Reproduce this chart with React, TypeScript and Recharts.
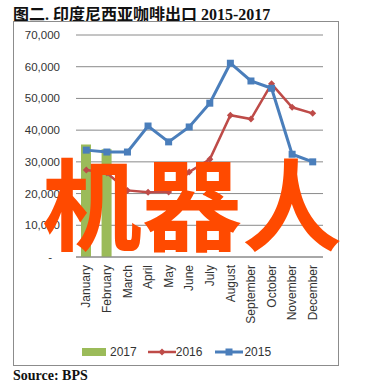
import { ComposedChart, Bar, Line, XAxis, YAxis, CartesianGrid, Legend } from 'recharts'

const months = [
  'January', 'February', 'March', 'April', 'May', 'June',
  'July', 'August', 'September', 'October', 'November', 'December',
]
const exports2017 = [35500, 34000, null, null, null, null, null, null, null, null, null, null]
const exports2016 = [27400, 26500, 21000, 20400, 20500, 26800, 30800, 44700, 43500, 54600, 47200, 45300]
const exports2015 = [33700, 33100, 33100, 41300, 36300, 41000, 48500, 61100, 55500, 53200, 32400, 30000]
const yTicks = [0, 10000, 20000, 30000, 40000, 50000, 60000, 70000]

const GREEN = '#9BBB59'
const RED = '#BE4B48'
const BLUE = '#4A7EBB'
const GRID = '#8a8a8a'
const SANS = '"Liberation Sans", Arial, sans-serif'

const chartData = months.map((m, i) => ({
  month: m,
  y2017: exports2017[i],
  y2016: exports2016[i],
  y2015: exports2015[i],
}))

function YTick({ x, y, payload }: any) {
  const v = payload.value as number
  const label = v === 0 ? '-' : v.toLocaleString('en-US')
  return (
    <text x={v === 0 ? x - 8 : x} y={y} dy="0.35em" textAnchor="end" fontSize={11.5} fill="#333" fontFamily={SANS}>
      {label}
    </text>
  )
}

function XTick({ x, y, payload }: any) {
  return (
    <text
      x={x}
      y={y}
      dy="0.35em"
      textAnchor="end"
      fontSize={12}
      fill="#333"
      fontFamily={SANS}
      transform={`rotate(-90, ${x}, ${y})`}
    >
      {payload.value}
    </text>
  )
}

function SquareDot({ cx, cy, index }: any) {
  if (cx == null || cy == null) return <g key={`s-${index}`} />
  return <rect key={`s-${index}`} x={cx - 3.5} y={cy - 3.5} width={7} height={7} fill={BLUE} />
}

function DiamondDot({ cx, cy, index }: any) {
  if (cx == null || cy == null) return <g key={`d-${index}`} />
  return (
    <polygon
      key={`d-${index}`}
      points={`${cx},${cy - 3.5} ${cx + 3.5},${cy} ${cx},${cy + 3.5} ${cx - 3.5},${cy}`}
      fill={RED}
    />
  )
}

function LegendContent() {
  const item = { display: 'flex', alignItems: 'center' } as const
  return (
    <div style={{ height: 30, paddingTop: 4, boxSizing: 'border-box', paddingLeft: 68, display: 'flex', fontFamily: SANS, fontSize: 12, color: '#333' }}>
      <div style={item}>
        <svg width={24} height={14}><rect x={0} y={3} width={24} height={8} fill={GREEN} /></svg>
        <span style={{ marginLeft: 4 }}>2017</span>
      </div>
      <div style={{ ...item, marginLeft: 11 }}>
        <svg width={28} height={14}>
          <line x1={0} y1={7} x2={28} y2={7} stroke={RED} strokeWidth={2.5} />
          <polygon points="14,3.5 17.5,7 14,10.5 10.5,7" fill={RED} />
        </svg>
        <span>2016</span>
      </div>
      <div style={{ ...item, marginLeft: 13 }}>
        <svg width={28} height={14}>
          <line x1={0} y1={7} x2={28} y2={7} stroke={BLUE} strokeWidth={3} />
          <rect x={10.5} y={3.5} width={7} height={7} fill={BLUE} />
        </svg>
        <span style={{ marginLeft: 1 }}>2015</span>
      </div>
    </div>
  )
}

export default function App() {
  return (
    <div style={{ position: 'absolute', left: 0, top: 0, width: 389, height: 388, background: '#fff' }}>
      <div
        style={{
          position: 'absolute', left: 13, top: 1, fontSize: 16, fontWeight: 700, color: '#111',
          fontFamily: '"Liberation Serif", "Noto Sans CJK SC", serif', whiteSpace: 'nowrap',
        }}
      >
        图二. 印度尼西亚咖啡出口 2015-2017
      </div>
      <div
        style={{
          position: 'absolute', left: 13, top: 21, width: 326, height: 345,
          border: '1px solid #8c8c8c', boxSizing: 'border-box',
        }}
      >
        <ComposedChart
          width={324}
          height={343}
          data={chartData}
          margin={{ top: 13, right: 15, left: 0, bottom: 0 }}
        >
          <CartesianGrid vertical={false} stroke={GRID} />
          <XAxis
            dataKey="month"
            interval={0}
            height={78}
            tickLine={false}
            tickSize={0}
            tickMargin={8}
            stroke={GRID}
            tick={<XTick />}
          />
          <YAxis
            width={62}
            domain={[0, 70000]}
            ticks={yTicks}
            axisLine={false}
            tickLine={false}
            tickSize={0}
            tickMargin={16}
            tick={<YTick />}
          />
          <Legend verticalAlign="bottom" content={<LegendContent />} wrapperStyle={{ left: 0, width: 324 }} />
          <Bar dataKey="y2017" name="2017" fill={GREEN} barSize={10} isAnimationActive={false} />
          <Line dataKey="y2016" name="2016" stroke={RED} strokeWidth={2.5} dot={<DiamondDot />} isAnimationActive={false} />
          <Line dataKey="y2015" name="2015" stroke={BLUE} strokeWidth={3} dot={<SquareDot />} isAnimationActive={false} />
        </ComposedChart>
      </div>
      <div
        style={{
          position: 'absolute', left: 42, top: 150, fontSize: 100, lineHeight: 1, fontWeight: 700,
          color: '#FF4A00', fontFamily: '"Noto Sans CJK SC", sans-serif', whiteSpace: 'nowrap',
          pointerEvents: 'none',
        }}
      >
        机器人
      </div>
      <div
        style={{
          position: 'absolute', left: 13, top: 368, fontSize: 14, fontWeight: 700, color: '#111',
          fontFamily: '"Liberation Serif", serif',
        }}
      >
        Source: BPS
      </div>
    </div>
  )
}
